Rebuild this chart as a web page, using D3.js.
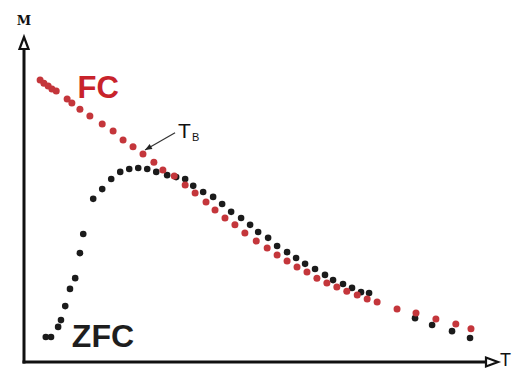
<!DOCTYPE html>
<html>
<head>
<meta charset="utf-8">
<script src="https://cdn.jsdelivr.net/npm/d3@7"></script>
<style>
  html, body { margin: 0; padding: 0; background: #fff; }
  svg { display: block; }
</style>
</head>
<body>
<svg id="chart" width="513" height="371"></svg>
<script>
// Field-cooled magnetisation (temperature, M) in arbitrary units
const fcT = [3.4, 4.2, 5.1, 5.9, 6.8, 9.1, 10.1, 11.8, 13.9, 16.5, 18.8, 20.9, 23.0, 25.1, 27.4, 29.3, 31.7, 34.0, 36.1, 38.4, 40.3, 42.4, 44.5, 46.6, 49.0, 51.3, 53.4, 55.5, 57.6, 59.7, 61.8, 63.9, 66.0, 68.1, 70.3, 72.4, 74.5, 78.7, 82.7, 86.9, 91.1, 94.3];
const fcM = [86.8, 85.8, 84.9, 84.0, 83.4, 80.9, 79.7, 77.8, 75.7, 73.2, 71.1, 68.3, 66.2, 64.0, 61.5, 59.1, 57.2, 54.5, 52.0, 49.2, 46.8, 44.3, 42.2, 39.7, 37.2, 35.1, 32.9, 31.1, 29.2, 27.7, 25.8, 24.3, 23.1, 21.8, 20.6, 19.4, 18.5, 16.3, 15.1, 13.2, 11.7, 10.2];
// Zero-field-cooled magnetisation
const zfcT = [4.6, 5.7, 7.2, 7.8, 8.7, 9.7, 10.8, 11.8, 12.5, 14.6, 16.5, 18.4, 20.3, 22.2, 24.1, 26.0, 27.9, 30.2, 32.1, 34.0, 35.7, 37.8, 39.9, 41.8, 43.7, 45.8, 47.7, 49.4, 51.5, 53.4, 55.5, 57.4, 59.3, 61.4, 63.5, 65.2, 67.3, 69.2, 71.1, 72.8, 82.5, 86.1, 90.3, 94.1];
const zfcM = [7.7, 7.7, 10.8, 12.9, 17.2, 22.5, 25.8, 33.5, 39.4, 50.2, 53.2, 56.3, 58.5, 59.4, 59.7, 59.4, 58.5, 57.5, 56.9, 56.3, 54.2, 52.3, 50.8, 48.6, 46.2, 44.3, 42.2, 40.0, 38.2, 35.7, 33.8, 32.0, 30.2, 28.6, 26.8, 25.2, 24.0, 22.8, 21.5, 21.2, 13.5, 11.4, 9.5, 7.4];
// Labels
const seriesLabels = ["FC", "ZFC"];
const axisLabels = ["M", "T"];
const blockingLabel = ["T", "B"];
const blockingPoint = [25.1, 64.0];   // T_B where the curves meet
const fcLabelPos = [11.3, 81.3];
const zfcLabelPos = [10.1, 4.6];
const tbLabelPos = [32.5, 69.0];

const svg = d3.select("#chart");
const x = d3.scaleLinear().domain([0, 100]).range([24, 498]);
const y = d3.scaleLinear().domain([0, 100]).range([362, 37]);

const red = "#c4363b", black = "#1b1b1b";

// Axes
const g = svg.append("g");
g.append("line").attr("x1", x(0)).attr("x2", x(0)).attr("y1", y(0) + 1.5).attr("y2", y(100) + 10)
  .attr("stroke", "#111").attr("stroke-width", 3);
g.append("line").attr("x1", x(0) - 1.5).attr("x2", x(100) - 10).attr("y1", y(0)).attr("y2", y(0))
  .attr("stroke", "#111").attr("stroke-width", 3);
// arrowheads
g.append("path")
  .attr("d", `M${x(0)},${y(100)} L${x(0) + 4.5},${y(100) + 12} L${x(0) - 4.5},${y(100) + 12} Z`)
  .attr("fill", "#fff").attr("stroke", "#111").attr("stroke-width", 2.2).attr("stroke-linejoin", "miter");
g.append("path")
  .attr("d", `M${x(100)},${y(0)} L${x(100) - 12},${y(0) - 4.5} L${x(100) - 12},${y(0) + 4.5} Z`)
  .attr("fill", "#fff").attr("stroke", "#111").attr("stroke-width", 2.2).attr("stroke-linejoin", "miter");

g.append("text").attr("x", x(0)).attr("y", 25).attr("text-anchor", "middle")
  .attr("font-family", "DejaVu Serif, serif").attr("font-weight", "bold").attr("font-size", 13)
  .attr("fill", "#111").text(axisLabels[0]);
g.append("text").attr("x", 500).attr("y", 366)
  .attr("font-family", "Liberation Sans, Arial, sans-serif").attr("font-size", 18)
  .attr("fill", "#111").text(axisLabels[1]);

// Data points
const fc = fcT.map((t, i) => [t, fcM[i]]);
const zfc = zfcT.map((t, i) => [t, zfcM[i]]);

svg.append("g").selectAll("circle").data(zfc).join("circle")
  .attr("cx", d => x(d[0])).attr("cy", d => y(d[1])).attr("r", 3.3).attr("fill", black);
svg.append("g").selectAll("circle").data(fc).join("circle")
  .attr("cx", d => x(d[0])).attr("cy", d => y(d[1])).attr("r", 3.5).attr("fill", red);

// Series labels
svg.append("text").attr("x", x(fcLabelPos[0])).attr("y", y(fcLabelPos[1]))
  .attr("font-family", "Liberation Sans, Arial, sans-serif").attr("font-weight", "bold").attr("font-size", 31)
  .attr("fill", "#c8232b").text(seriesLabels[0]);
svg.append("text").attr("x", x(zfcLabelPos[0])).attr("y", y(zfcLabelPos[1]))
  .attr("font-family", "Liberation Sans, Arial, sans-serif").attr("font-weight", "bold").attr("font-size", 32)
  .attr("fill", "#1e1e1e").text(seriesLabels[1]);

// T_B annotation
const tb = svg.append("text").attr("x", x(tbLabelPos[0])).attr("y", y(tbLabelPos[1]))
  .attr("font-family", "Liberation Sans, Arial, sans-serif").attr("font-size", 21).attr("fill", "#111");
tb.append("tspan").text(blockingLabel[0]);
tb.append("tspan").attr("font-size", 11).attr("dy", 3).attr("dx", 1).text(blockingLabel[1]);

const ax1 = x(tbLabelPos[0]) - 3, ay1 = y(tbLabelPos[1]) - 5;
const ax2 = x(blockingPoint[0]) + 2, ay2 = y(blockingPoint[1]) - 4;
svg.append("line").attr("x1", ax1).attr("y1", ay1).attr("x2", ax2).attr("y2", ay2)
  .attr("stroke", "#333").attr("stroke-width", 1.2);
const ang = Math.atan2(ay2 - ay1, ax2 - ax1);
const hl = 7, hw = 2.8;
const bx = ax2 - hl * Math.cos(ang), by = ay2 - hl * Math.sin(ang);
svg.append("path")
  .attr("d", `M${ax2},${ay2} L${bx - hw * Math.sin(ang)},${by + hw * Math.cos(ang)} L${bx + hw * Math.sin(ang)},${by - hw * Math.cos(ang)} Z`)
  .attr("fill", "#222");
</script>
</body>
</html>
